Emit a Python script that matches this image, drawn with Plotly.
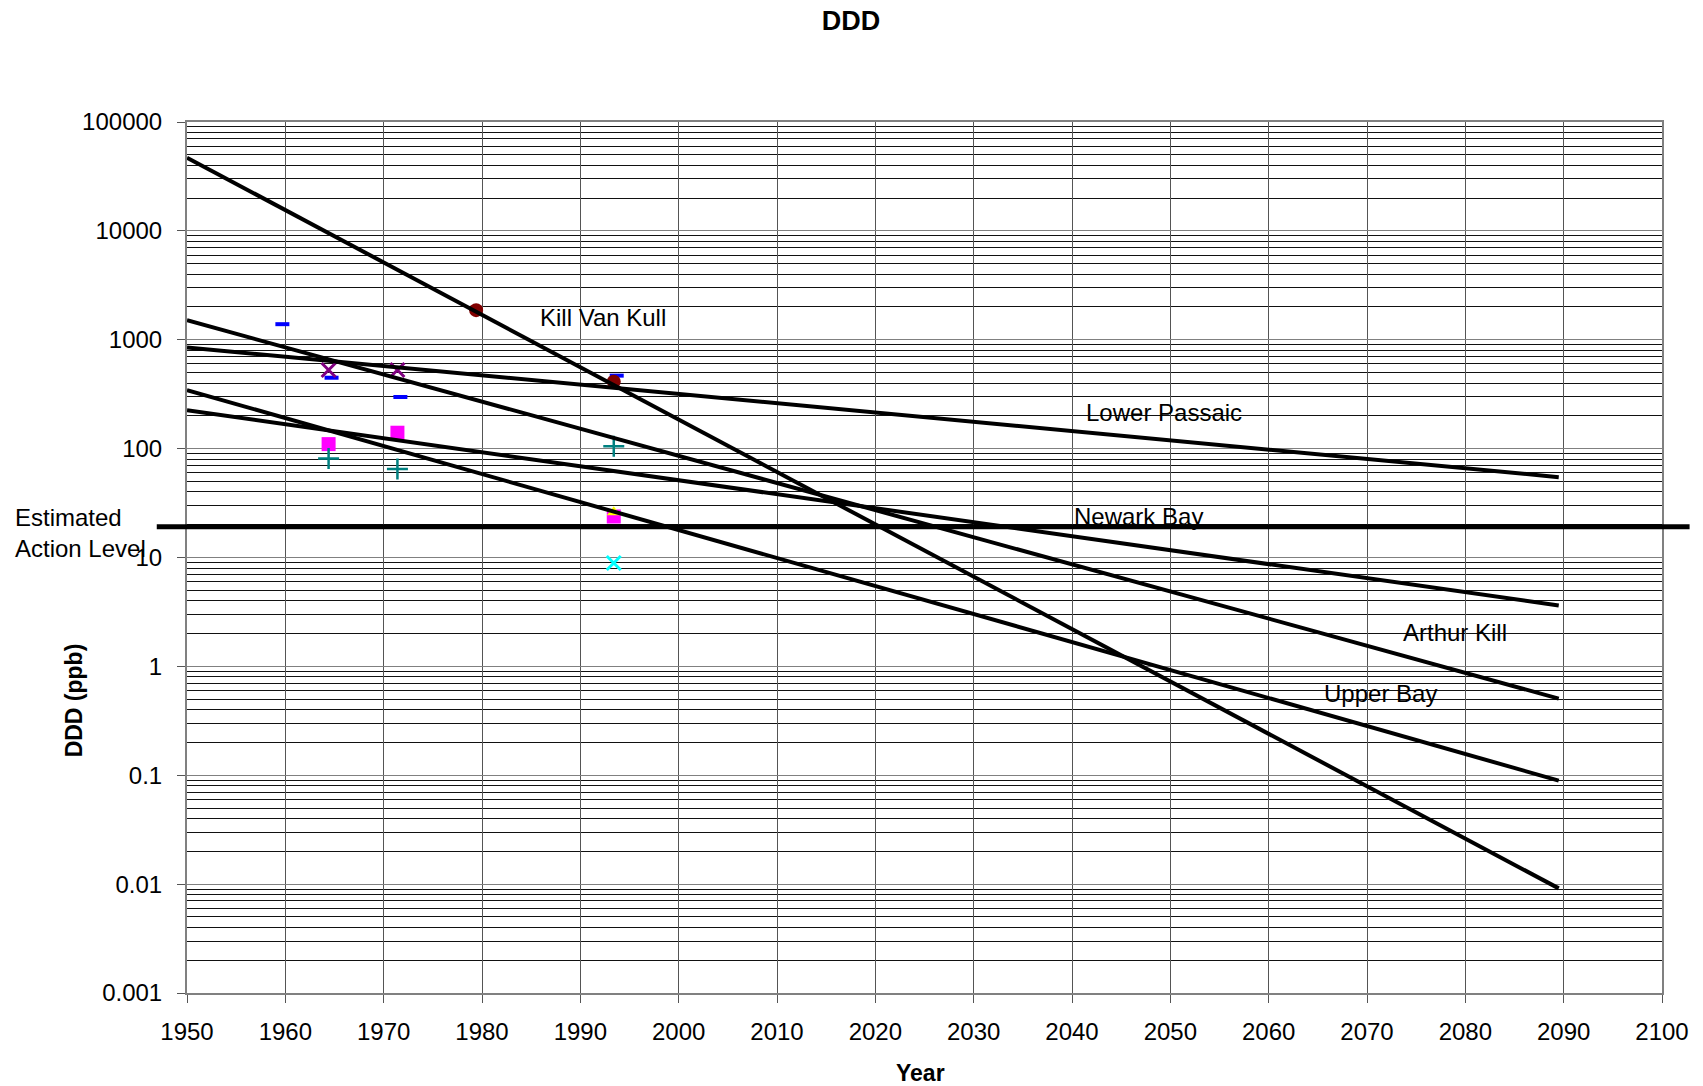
import math
import plotly.graph_objects as go

# ---- fitted log-linear trend lines (value at start year, value at end year) ----
trend_years = [1950, 2089.5]
kill_van_kull = [47000, 0.00914]
lower_passaic = [850, 54.7]
arthur_kill = [1510, 0.506]
newark_bay = [225, 3.63]
upper_bay = [345, 0.0893]

# estimated action level (ppb)
action_level = 19.2

# ---- measured sediment concentrations (ppb) ----
dash_years = [1959.7, 1964.7, 1971.7, 1993.7]
dash_vals = [1390, 448, 298, 468]

purple_years = [1964.4, 1971.4]
purple_vals = [527, 527]

maroon_years = [1979.4, 1993.4]
maroon_vals = [1870, 412]

magenta_years = [1964.4, 1971.4, 1993.4]
magenta_vals = [110, 140, 23.8]

teal_years = [1964.4, 1971.4, 1993.4]
teal_vals = [81, 65, 105]

yellow_years = [1993.4]
yellow_vals = [26]

cyan_years = [1993.4]
cyan_vals = [8.9]

# ---- axis ticks ----
x_ticks = list(range(1950, 2101, 10))
y_tickvals = [1e-3, 1e-2, 1e-1, 1, 10, 100, 1000, 10000, 100000]
y_ticktext = ["0.001", "0.01", "0.1", "1", "10", "100", "1000", "10000", "100000"]
y_minor = [m * 10.0 ** k for k in range(-3, 5) for m in range(2, 10)]

FONT = "Liberation Sans, Arial, sans-serif"
Y_LOG_MIN, Y_LOG_MAX = -3, 5

fig = go.Figure()

# measured points
fig.add_trace(go.Scatter(
    x=dash_years, y=dash_vals, mode="markers", name="Series 1",
    marker=dict(symbol="line-ew", size=10, color="#0000FF",
                line=dict(width=4, color="#0000FF"))))
fig.add_trace(go.Scatter(
    x=purple_years, y=purple_vals, mode="markers", name="Series 2",
    marker=dict(symbol="x-thin", size=14, color="#800080",
                line=dict(width=3, color="#800080"))))
fig.add_trace(go.Scatter(
    x=magenta_years, y=magenta_vals, mode="markers", name="Series 3",
    marker=dict(symbol="square", size=14, color="#FF00FF")))
fig.add_trace(go.Scatter(
    x=teal_years, y=teal_vals, mode="markers", name="Series 4",
    marker=dict(symbol="cross-thin", size=15, color="#008080",
                line=dict(width=2.5, color="#008080"))))
fig.add_trace(go.Scatter(
    x=yellow_years, y=yellow_vals, mode="markers", name="Series 5",
    marker=dict(symbol="triangle-up", size=12, color="#FFFF00")))
fig.add_trace(go.Scatter(
    x=cyan_years, y=cyan_vals, mode="markers", name="Series 6",
    marker=dict(symbol="x-thin", size=14, color="#00FFFF",
                line=dict(width=3, color="#00FFFF"))))
fig.add_trace(go.Scatter(
    x=maroon_years, y=maroon_vals, mode="markers", name="Series 7",
    marker=dict(symbol="circle", size=14, color="#800000")))

# trend lines
for name, vals in [("Kill Van Kull", kill_van_kull),
                   ("Lower Passaic", lower_passaic),
                   ("Arthur Kill", arthur_kill),
                   ("Newark Bay", newark_bay),
                   ("Upper Bay", upper_bay)]:
    fig.add_trace(go.Scatter(
        x=trend_years, y=vals, mode="lines", name=name,
        line=dict(color="black", width=4)))

# action level line, running past both sides of the plot area
action_y = (math.log10(action_level) - Y_LOG_MIN) / (Y_LOG_MAX - Y_LOG_MIN)
fig.add_shape(type="line", xref="x domain", yref="y domain",
              x0=-0.0205, x1=1.0187, y0=action_y, y1=action_y,
              line=dict(color="black", width=5))

# series labels
labels = [
    ("Kill Van Kull", 1992.3, 3.207),
    ("Lower Passaic", 2049.4, 2.335),
    ("Newark Bay", 2046.8, 1.381),
    ("Arthur Kill", 2078.9, 0.307),
    ("Upper Bay", 2071.4, -0.253),
]
for text, lx, ly in labels:
    fig.add_annotation(x=lx, y=ly, xref="x", yref="y", text=text,
                       showarrow=False, xanchor="center", yanchor="middle",
                       font=dict(family=FONT, size=24, color="black"))

fig.add_annotation(xref="paper", yref="paper", x=-0.1182, y=0.528,
                   text="Estimated<br>Action Level", showarrow=False,
                   xanchor="left", yanchor="middle", align="left",
                   font=dict(family=FONT, size=24, color="black"))

# axis titles
fig.add_annotation(xref="paper", yref="paper", x=0.497, y=-0.0914,
                   text="<b>Year</b>", showarrow=False,
                   xanchor="center", yanchor="middle",
                   font=dict(family=FONT, size=23, color="black"))
fig.add_annotation(xref="paper", yref="paper", x=-0.0766, y=0.336,
                   text="<b>DDD (ppb)</b>", showarrow=False, textangle=-90,
                   xanchor="center", yanchor="middle",
                   font=dict(family=FONT, size=23, color="black"))

fig.update_layout(
    width=1703, height=1086,
    margin=dict(l=187, r=41, t=122, b=93, pad=0),
    paper_bgcolor="white", plot_bgcolor="white",
    showlegend=False,
    font=dict(family=FONT, color="black"),
    title=dict(text="<b>DDD</b>", x=851 / 1703, y=1 - 21 / 1086,
               xref="container", yref="container",
               xanchor="center", yanchor="middle",
               font=dict(family=FONT, size=27, color="black")),
    xaxis=dict(range=[1950, 2100], tickvals=x_ticks, ticks="outside",
               ticklen=8, tickwidth=1, tickcolor="#555555",
               showgrid=True, gridcolor="#555555", gridwidth=1,
               showline=True, linecolor="#808080", linewidth=2, mirror=True,
               zeroline=False, ticklabelstandoff=8,
               tickfont=dict(family=FONT, size=24, color="black")),
    yaxis=dict(type="log", range=[Y_LOG_MIN, Y_LOG_MAX],
               tickvals=y_tickvals, ticktext=y_ticktext, ticks="outside",
               ticklen=8, tickwidth=1, tickcolor="#555555",
               showgrid=True, gridcolor="#808080", gridwidth=1,
               minor=dict(tickvals=y_minor, showgrid=True,
                          gridcolor="#111111", gridwidth=1, ticks=""),
               showline=True, linecolor="#808080", linewidth=2, mirror=True,
               zeroline=False, ticklabelstandoff=10,
               tickfont=dict(family=FONT, size=24, color="black")),
)

fig.write_html("out.html")
